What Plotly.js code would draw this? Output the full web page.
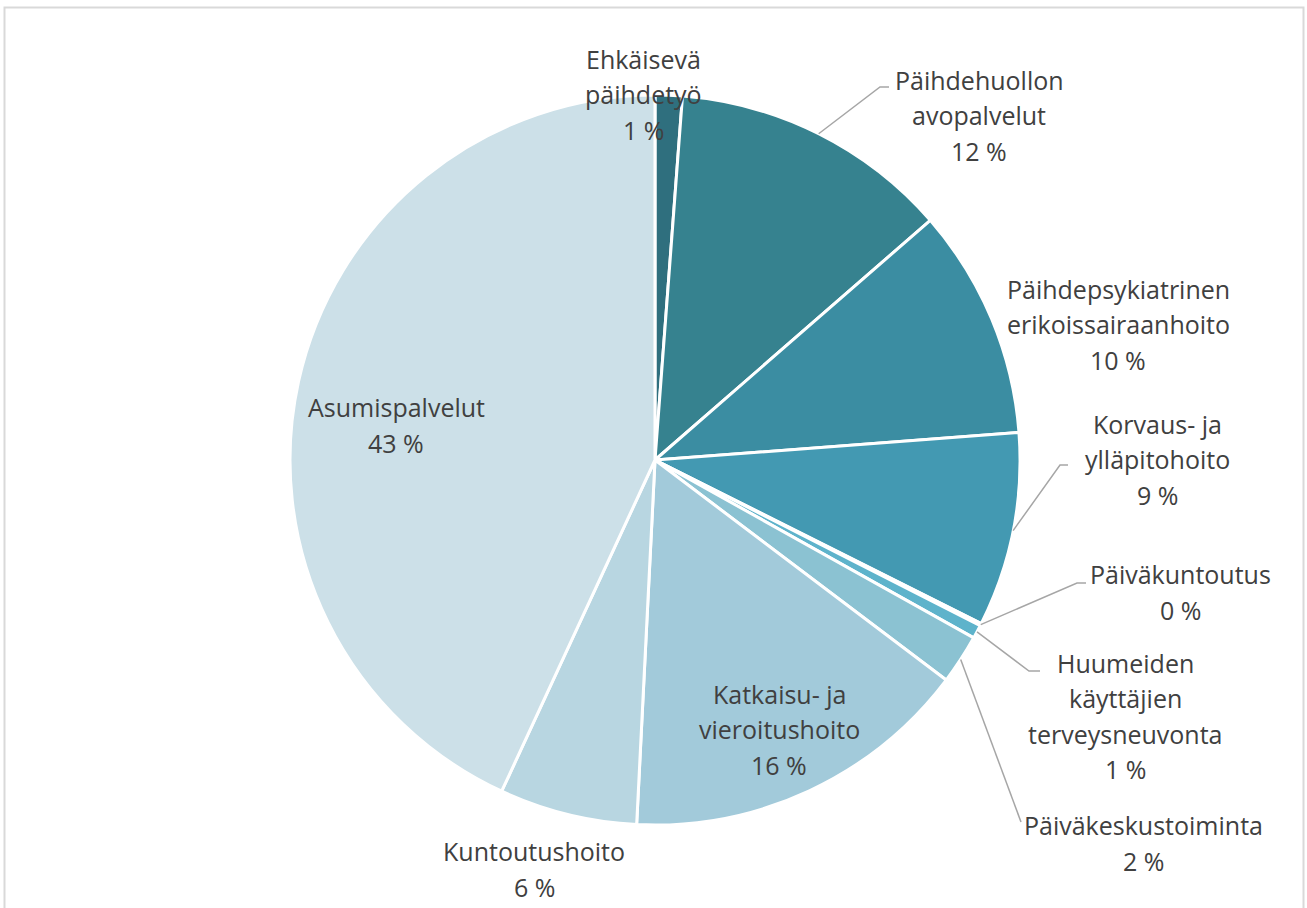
<!DOCTYPE html>
<html>
<head>
<meta charset="utf-8">
<script src="https://cdn.plot.ly/plotly-3.0.1.min.js"></script>
<style>
  html, body { margin: 0; padding: 0; background: #ffffff; }
  #chart { width: 1307px; height: 908px; }
</style>
</head>
<body>
<div id="chart"></div>
<script>
// ---- data ----
const categories = [
  'Ehkäisevä päihdetyö',
  'Päihdehuollon avopalvelut',
  'Päihdepsykiatrinen erikoissairaanhoito',
  'Korvaus- ja ylläpitohoito',
  'Päiväkuntoutus',
  'Huumeiden käyttäjien terveysneuvonta',
  'Päiväkeskustoiminta',
  'Katkaisu- ja vieroitushoito',
  'Kuntoutushoito',
  'Asumispalvelut'
];
const shares = [1.2, 12.4, 10.2, 8.6, 0.1, 0.6, 2.2, 15.5, 6.1, 43.1];
const labelLines = [
  ['Ehkäisevä', 'päihdetyö'],
  ['Päihdehuollon', 'avopalvelut'],
  ['Päihdepsykiatrinen', 'erikoissairaanhoito'],
  ['Korvaus- ja', 'ylläpitohoito'],
  ['Päiväkuntoutus'],
  ['Huumeiden', 'käyttäjien', 'terveysneuvonta'],
  ['Päiväkeskustoiminta'],
  ['Katkaisu- ja', 'vieroitushoito'],
  ['Kuntoutushoito'],
  ['Asumispalvelut']
];

// ---- styles / layout ----
const colors = ['#2F6F7E', '#36828F', '#3B8DA2', '#4399B2', '#52A6BE', '#5EB3CB',
                '#8BC2D2', '#A2CADA', '#B8D6E1', '#CCE0E8'];
const W = 1307, H = 908;
const CX = 655, CY = 460, R = 365;
const LINE_H = 35.5;
// label block centres in pixels
const labelPos = [[643, 94], [979, 115], [1118, 324], [1157, 459], [1180, 592],
                  [1125, 716], [1143, 843], [779, 729], [534, 869], [396, 425]];
// leader line points (elbow, end) in pixels; null = no leader
const leaders = [null, [[880, 87], [889, 87]], null, [[1060, 465], [1068, 465]],
                 [[1077, 583], [1086, 583]], [[1029, 671], [1040, 671]],
                 [[1021, 822]], null, null, null];

const px = x => x / W;
const py = y => 1 - y / H;

const total = shares.reduce((a, b) => a + b, 0);
const pct = shares.map(v => Math.round(v / total * 100) + ' %');

const annotations = [];
labelLines.forEach((lines, i) => {
  const all = lines.concat([pct[i]]);
  const n = all.length;
  all.forEach((t, k) => {
    annotations.push({
      x: px(labelPos[i][0]), y: py(labelPos[i][1] + (k - (n - 1) / 2) * LINE_H),
      xref: 'paper', yref: 'paper',
      text: t, showarrow: false,
      xanchor: 'center', yanchor: 'middle', align: 'center',
      font: { family: 'Open Sans, Noto Sans, sans-serif', size: 25, color: '#404040' }
    });
  });
});

const shapes = [{
  type: 'rect', xref: 'paper', yref: 'paper',
  x0: px(4.5), x1: px(1303.5), y0: py(930), y1: py(7.5),
  line: { color: '#D9D9D9', width: 2 }, fillcolor: 'rgba(0,0,0,0)'
}];
let cum = 0;
shares.forEach((v, i) => {
  const mid = (cum + v / 2) / total * 2 * Math.PI;
  cum += v;
  if (!leaders[i]) return;
  const pts = [[CX + R * Math.sin(mid), CY - R * Math.cos(mid)]].concat(leaders[i]);
  let path = 'M ' + px(pts[0][0]) + ' ' + py(pts[0][1]);
  for (let k = 1; k < pts.length; k++) path += ' L ' + px(pts[k][0]) + ' ' + py(pts[k][1]);
  shapes.push({ type: 'path', xref: 'paper', yref: 'paper', path: path,
    line: { color: '#A6A6A6', width: 1.5 } });
});

const trace = {
  type: 'pie',
  labels: categories,
  values: shares,
  sort: false,
  direction: 'clockwise',
  rotation: 0,
  textinfo: 'none',
  hoverinfo: 'label+percent',
  marker: { colors: colors, line: { color: '#FFFFFF', width: 3 } },
  domain: { x: [px(CX - R), px(CX + R)], y: [py(CY + R), py(CY - R)] },
  showlegend: false
};

Plotly.newPlot('chart', [trace], {
  width: W, height: H,
  margin: { l: 0, r: 0, t: 0, b: 0 },
  paper_bgcolor: '#FFFFFF',
  showlegend: false,
  annotations: annotations,
  shapes: shapes
}, { displayModeBar: false, staticPlot: true });
</script>
</body>
</html>
